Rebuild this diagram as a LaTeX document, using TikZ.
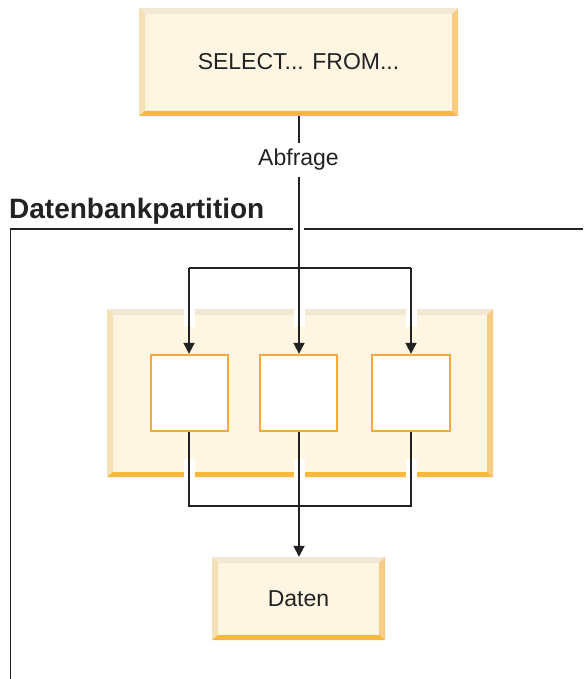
\documentclass[tikz,border=0pt]{standalone}
\usepackage{fontspec}
\setmainfont{Liberation Sans}
\usetikzlibrary{arrows.meta}
\definecolor{bfill}{HTML}{FEF6E2}
\definecolor{btop}{HTML}{F3E8D4}
\definecolor{bleft}{HTML}{F5DFB5}
\definecolor{bright}{HTML}{F8CC85}
\definecolor{bbot}{HTML}{F6B83D}
\definecolor{sborder}{HTML}{F3A93A}
\definecolor{ink}{HTML}{222222}
\tikzset{
  bevel/.style={fill=bfill, inner sep=0pt, font=\fontsize{23}{28}\selectfont, text=ink,
    path picture={
      \coordinate (@nw) at (path picture bounding box.north west);
      \coordinate (@ne) at (path picture bounding box.north east);
      \coordinate (@sw) at (path picture bounding box.south west);
      \coordinate (@se) at (path picture bounding box.south east);
      \fill[btop] (@nw) -- (@ne) -- ([shift={(-6pt,-6pt)}]@ne) -- ([shift={(6pt,-6pt)}]@nw) -- cycle;
      \fill[bleft] (@nw) -- ([shift={(6pt,-6pt)}]@nw) -- ([shift={(6pt,5pt)}]@sw) -- (@sw) -- cycle;
      \fill[bright] (@ne) -- ([shift={(-6pt,-6pt)}]@ne) -- ([shift={(-6pt,5pt)}]@se) -- (@se) -- cycle;
      \fill[bbot] (@sw) -- ([shift={(6pt,5pt)}]@sw) -- ([shift={(-6pt,5pt)}]@se) -- (@se) -- cycle;
    }},
  sbox/.style={draw=sborder, line width=1.8pt, fill=white, minimum width=77.5pt, minimum height=76.5pt, inner sep=0pt},
  conn/.style={draw=ink, line width=1.8pt},
  arr/.style={conn, -{Triangle[width=11pt,length=11pt]}},
  gap/.style={fill=white, draw=none},
  lbl/.style={font=\fontsize{23}{28}\selectfont, text=ink},
}
\begin{document}
\begin{tikzpicture}[x=1pt,y=-1pt]
\useasboundingbox (0,0) rectangle (583,679);
% frame of the database partition
\coordinate (fb) at (10.5,679);
\coordinate (fc) at (10.5,229);
\coordinate (fr) at (583,229);
\draw[draw=ink, line width=1.8pt] (fb) -- (fc) -- (fr);
\fill[gap] (293,224) rectangle (304,234);
\node[anchor=base west, inner sep=0pt, font=\fontsize{28}{32}\bfseries\selectfont, text=ink] (title) at (9,218) {Datenbankpartition};
% boxes
\node[bevel, minimum width=319pt, minimum height=108pt] (sel) at (298.5,62) {SELECT... FROM...};
\node[bevel, minimum width=386pt, minimum height=168pt] (big) at (300,393) {};
\node[bevel, minimum width=173pt, minimum height=83pt] (daten) at (298.5,598.5) {Daten};
% white gaps where the lines cross the border of the big box
\foreach \gx in {189,299,411}{
  \fill[gap] (\gx-5.5,309) rectangle (\gx+5.5,327);
  \fill[gap] (\gx-5.5,459) rectangle (\gx+5.5,477);
}
\node[sbox] (p1) at (189.5,393) {};
\node[sbox] (p2) at (298.5,393) {};
\node[sbox] (p3) at (411,393) {};
\node[lbl, anchor=base, inner sep=6pt] (abf) at (298.5,166) {Abfrage};
% junctions
\coordinate (jL) at (189,268);
\coordinate (jM) at (299,268);
\coordinate (jR) at (411,268);
\coordinate (kL) at (189,506);
\coordinate (kM) at (299,506);
\coordinate (kR) at (411,506);
% connectors
\draw[conn] (sel.south -| jM) -- (abf.north -| jM);
\draw[conn] (abf.south -| jM) -- (jM);
\draw[arr] (jM) -- (p2.north -| jM);
\draw[conn] (jL) -- (jR);
\draw[arr] (jL) -- (p1.north -| jL);
\draw[arr] (jR) -- (p3.north -| jR);
\draw[conn] (p1.south -| kL) -- (kL) -- (kR) -- (p3.south -| kR);
\draw[conn] (p2.south -| kM) -- (kM);
\draw[arr] (kM) -- (daten.north -| kM);
\end{tikzpicture}
\end{document}
